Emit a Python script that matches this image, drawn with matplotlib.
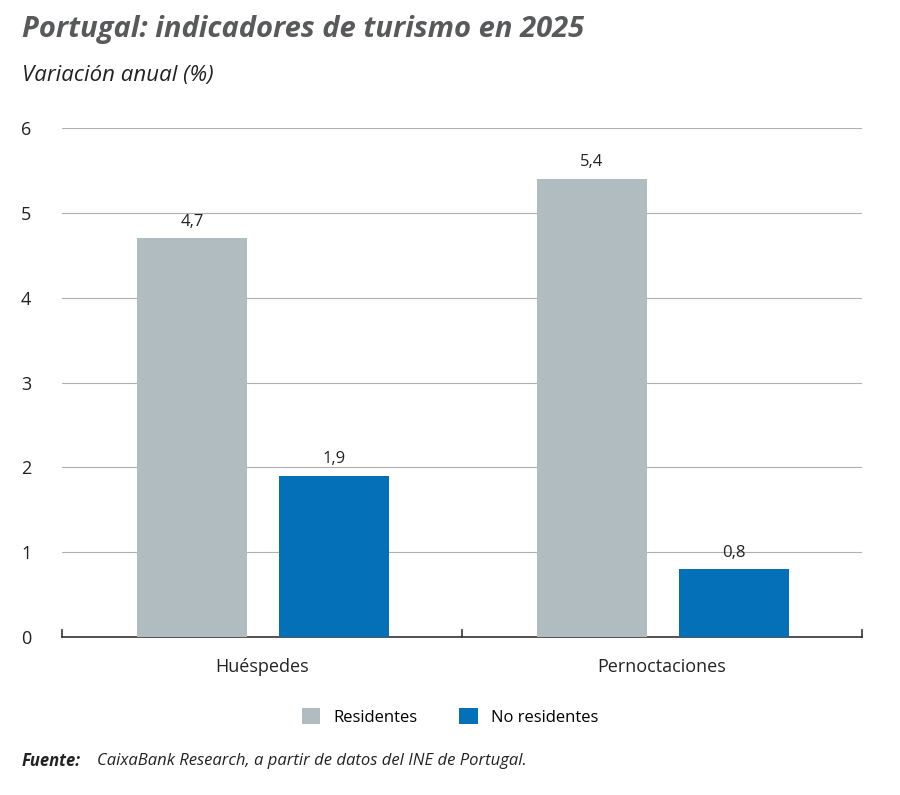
import matplotlib
matplotlib.use("Agg")
import matplotlib.pyplot as plt
import numpy as np

plt.rcParams['font.family'] = ['Open Sans', 'DejaVu Sans']

categories = ["Huéspedes", "Pernoctaciones"]
residentes = [4.7, 5.4]
no_residentes = [1.9, 0.8]
yticks = [0, 1, 2, 3, 4, 5, 6]

c_res = "#b1bcc1"
c_nores = "#0470b8"
txt = "#222222"

fig = plt.figure(figsize=(9, 7.95), dpi=100)
ax = fig.add_axes([62/900, 1-637/795, 800/900, (637-128)/795])

x = np.arange(len(categories))
w = 0.275
b1 = ax.bar(x - 0.175, residentes, w, color=c_res, label="Residentes", zorder=3)
b2 = ax.bar(x + 0.18, no_residentes, w, color=c_nores, label="No residentes", zorder=3)
for bars, vals in ((b1, residentes), (b2, no_residentes)):
    for r, v in zip(bars, vals):
        ax.text(r.get_x() + r.get_width()/2, v + 0.1, f"{v:.1f}".replace(".", ","),
                ha="center", va="bottom", fontsize=12, color=txt)

ax.set_xlim(-0.5, 1.5)
ax.set_ylim(0, 6)
ax.set_yticks(yticks)
ax.set_yticklabels([str(t) for t in yticks], fontsize=13, color=txt)
ax.tick_params(axis='y', length=0, pad=22)
ax.yaxis.grid(True, color="#b0b0b0", linewidth=0.8, zorder=0)
ax.set_xticks([-0.5, 0.5, 1.5], minor=False)
ax.set_xticklabels([])
ax.tick_params(axis='x', length=6, width=1, color="#333333", direction='in')
for i, c in enumerate(categories):
    ax.text(i, -0.25, c, ha="center", va="top", fontsize=13, color=txt)
for s in ("top", "right", "left"):
    ax.spines[s].set_visible(False)
ax.spines["bottom"].set_color("#333333")
ax.spines["bottom"].set_linewidth(1.2)
ax.tick_params(axis='x', which='both', top=False)
# put ticks upward
ax.tick_params(axis='x', direction='out', length=0)
for xv in (-0.5, 0.5, 1.5):
    ax.plot([xv, xv], [0, 0.08], color="#333333", lw=1.2, clip_on=False, zorder=4)

fig.legend(handles=[b1, b2], labels=["Residentes", "No residentes"],
           loc="center", bbox_to_anchor=(0.5, 1-717/795), ncol=2, frameon=False,
           fontsize=12, handlelength=1.1, handleheight=1.1, columnspacing=2.5)

fig.text(22/900, 1-30/795, "Portugal: indicadores de turismo en 2025", fontsize=21,
         fontweight="bold", style="italic", color="#58595b", va="center")
fig.text(22/900, 1-75/795, "Variación anual (%)", fontsize=16, style="italic",
         color=txt, va="center")
fig.text(22/900, 1-761/795, "Fuente:", fontsize=12, fontweight="bold", style="italic",
         color=txt, va="center")
fig.text(97/900, 1-761/795, "CaixaBank Research, a partir de datos del INE de Portugal.",
         fontsize=12, style="italic", color=txt, va="center")

fig.savefig("out.png", dpi=100)
